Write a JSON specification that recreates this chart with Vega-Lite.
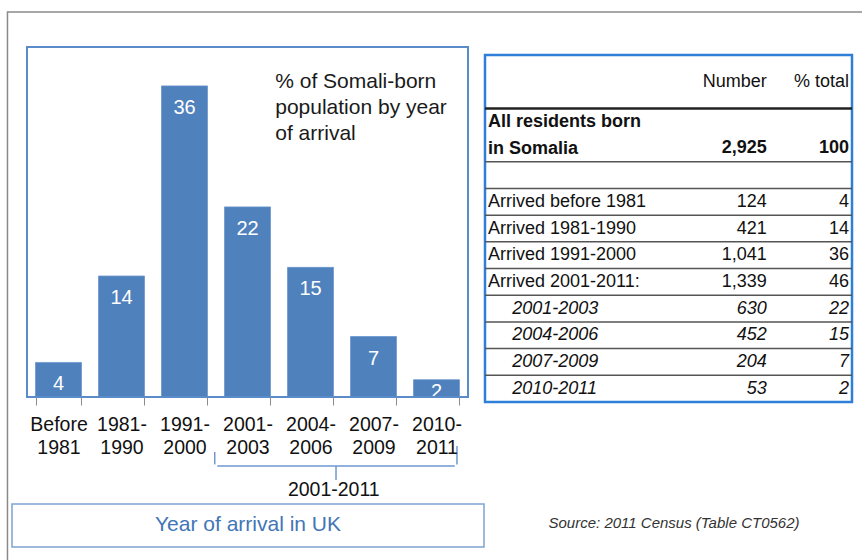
{
  "$schema": "https://vega.github.io/schema/vega-lite/v6.json",
  "width": 862,
  "height": 560,
  "padding": 0,
  "autosize": {"type": "none"},
  "background": "white",
  "config": {
    "view": {"stroke": null},
    "font": "Liberation Sans",
    "text": {"font": "Liberation Sans", "color": "#111111"}
  },
  "datasets": {
    "periods": [
      {"period": "Before 1981", "pct": 4},
      {"period": "1981-1990", "pct": 14},
      {"period": "1991-2000", "pct": 36},
      {"period": "2001-2003", "pct": 22},
      {"period": "2004-2006", "pct": 15},
      {"period": "2007-2009", "pct": 7},
      {"period": "2010-2011", "pct": 2}
    ],
    "census": [
      {"label": "All residents born\nin Somalia", "number": 2925, "pct": 100, "level": "total"},
      {"label": "Arrived before 1981", "number": 124, "pct": 4, "level": "main"},
      {"label": "Arrived 1981-1990", "number": 421, "pct": 14, "level": "main"},
      {"label": "Arrived 1991-2000", "number": 1041, "pct": 36, "level": "main"},
      {"label": "Arrived 2001-2011:", "number": 1339, "pct": 46, "level": "main"},
      {"label": "2001-2003", "number": 630, "pct": 22, "level": "sub"},
      {"label": "2004-2006", "number": 452, "pct": 15, "level": "sub"},
      {"label": "2007-2009", "number": 204, "pct": 7, "level": "sub"},
      {"label": "2010-2011", "number": 53, "pct": 2, "level": "sub"}
    ]
  },
  "layer": [
    {
      "data": {"values": [{}]},
      "layer": [
        {
          "mark": {"type": "rect", "filled": false, "color": "#8a8a8a", "strokeWidth": 1.5},
          "encoding": {
            "x": {"datum": -0.31, "type": "quantitative", "scale": {"domain": [0, 7], "range": [27, 468], "nice": false, "zero": false}, "axis": null},
            "x2": {"datum": 14.5},
            "y": {"datum": 44.55, "type": "quantitative", "scale": {"domain": [0, 40.5], "range": [397, 47], "nice": false, "zero": false}, "axis": null},
            "y2": {"datum": -25}
          }
        },
        {
          "mark": {"type": "text", "align": "left", "baseline": "alphabetic", "fontSize": 21, "lineHeight": 26, "color": "#1a1a1a",
                   "text": ["% of Somali-born", "population by year", "of arrival"]},
          "encoding": {
            "x": {"datum": 3.94, "type": "quantitative", "scale": {"domain": [0, 7], "range": [27, 468], "nice": false, "zero": false}, "axis": null},
            "y": {"datum": 35.76, "type": "quantitative", "scale": {"domain": [0, 40.5], "range": [397, 47], "nice": false, "zero": false}, "axis": null}
          }
        },
        {
          "mark": {"type": "rule", "color": "#6f98cf", "strokeWidth": 1.5},
          "encoding": {
            "x": {"datum": 2.98, "type": "quantitative", "scale": {"domain": [0, 7], "range": [27, 468], "nice": false, "zero": false}, "axis": null},
            "y": {"datum": -6.36, "type": "quantitative", "scale": {"domain": [0, 40.5], "range": [397, 47], "nice": false, "zero": false}, "axis": null},
            "y2": {"datum": -7.8}
          }
        },
        {
          "mark": {"type": "rule", "color": "#6f98cf", "strokeWidth": 1.5},
          "encoding": {
            "x": {"datum": 3.02, "type": "quantitative", "scale": {"domain": [0, 7], "range": [27, 468], "nice": false, "zero": false}, "axis": null},
            "x2": {"datum": 6.79},
            "y": {"datum": -7.98, "type": "quantitative", "scale": {"domain": [0, 40.5], "range": [397, 47], "nice": false, "zero": false}, "axis": null}
          }
        },
        {
          "mark": {"type": "rule", "color": "#6f98cf", "strokeWidth": 1.5},
          "encoding": {
            "x": {"datum": 6.825, "type": "quantitative", "scale": {"domain": [0, 7], "range": [27, 468], "nice": false, "zero": false}, "axis": null},
            "y": {"datum": -5.67, "type": "quantitative", "scale": {"domain": [0, 40.5], "range": [397, 47], "nice": false, "zero": false}, "axis": null},
            "y2": {"datum": -7.8}
          }
        },
        {
          "mark": {"type": "rule", "color": "#6f98cf", "strokeWidth": 1.5},
          "encoding": {
            "x": {"datum": 4.905, "type": "quantitative", "scale": {"domain": [0, 7], "range": [27, 468], "nice": false, "zero": false}, "axis": null},
            "y": {"datum": -7.98, "type": "quantitative", "scale": {"domain": [0, 40.5], "range": [397, 47], "nice": false, "zero": false}, "axis": null},
            "y2": {"datum": -9.6}
          }
        },
        {
          "mark": {"type": "text", "align": "center", "baseline": "middle", "fontSize": 19.5, "text": "2001-2011"},
          "encoding": {
            "x": {"datum": 4.87, "type": "quantitative", "scale": {"domain": [0, 7], "range": [27, 468], "nice": false, "zero": false}, "axis": null},
            "y": {"datum": -10.76, "type": "quantitative", "scale": {"domain": [0, 40.5], "range": [397, 47], "nice": false, "zero": false}, "axis": null}
          }
        },
        {
          "mark": {"type": "rect", "filled": false, "color": "#7ea2d4", "strokeWidth": 1.5},
          "encoding": {
            "x": {"datum": -0.238, "type": "quantitative", "scale": {"domain": [0, 7], "range": [27, 468], "nice": false, "zero": false}, "axis": null},
            "x2": {"datum": 7.254},
            "y": {"datum": -12.38, "type": "quantitative", "scale": {"domain": [0, 40.5], "range": [397, 47], "nice": false, "zero": false}, "axis": null},
            "y2": {"datum": -17.36}
          }
        },
        {
          "mark": {"type": "text", "align": "center", "baseline": "middle", "fontSize": 21, "color": "#4275b8", "text": "Year of arrival in UK"},
          "encoding": {
            "x": {"datum": 3.508, "type": "quantitative", "scale": {"domain": [0, 7], "range": [27, 468], "nice": false, "zero": false}, "axis": null},
            "y": {"datum": -14.81, "type": "quantitative", "scale": {"domain": [0, 40.5], "range": [397, 47], "nice": false, "zero": false}, "axis": null}
          }
        },
        {
          "mark": {"type": "text", "align": "center", "baseline": "middle", "fontSize": 15, "fontStyle": "italic", "color": "#333333", "text": "Source: 2011 Census (Table CT0562)"},
          "encoding": {
            "x": {"datum": 10.27, "type": "quantitative", "scale": {"domain": [0, 7], "range": [27, 468], "nice": false, "zero": false}, "axis": null},
            "y": {"datum": -14.58, "type": "quantitative", "scale": {"domain": [0, 40.5], "range": [397, 47], "nice": false, "zero": false}, "axis": null}
          }
        }
      ]
    },
    {
      "data": {"name": "periods"},
      "layer": [
        {
          "mark": {"type": "bar", "color": "#4f81bd", "stroke": "#6c97cf", "strokeWidth": 0.8},
          "encoding": {
            "x": {
              "field": "period", "type": "nominal",
              "scale": {"type": "band", "domain": ["Before 1981", "1981-1990", "1991-2000", "2001-2003", "2004-2006", "2007-2009", "2010-2011"], "range": [27, 468], "paddingInner": 0.27, "paddingOuter": 0.135},
              "axis": {
                "title": null, "orient": "bottom", "offset": -163, "domain": false, "grid": false,
                "tickBand": "extent", "tickSize": 8, "tickColor": "#8c8c8c", "tickWidth": 1,
                "labelExpr": "isString(datum.value) ? (datum.value == 'Before 1981' ? ['Before', '1981'] : [substring(datum.value, 0, 5), substring(datum.value, 5)]) : ''",
                "labelFont": "Liberation Sans", "labelFontSize": 19.5, "labelColor": "#111111",
                "labelPadding": 10, "labelLineHeight": 23, "labelAngle": 0, "zindex": 2
              }
            },
            "y": {
              "field": "pct", "type": "quantitative", "stack": null,
              "scale": {"domain": [0, 40.5], "range": [397, 47], "nice": false, "zero": false},
              "axis": null
            }
          }
        },
        {
          "transform": [{"filter": "datum.pct >= 4"}],
          "mark": {"type": "text", "color": "white", "fontSize": 20, "baseline": "top", "dy": 12},
          "encoding": {
            "x": {"field": "period", "type": "nominal"},
            "y": {"field": "pct", "type": "quantitative", "stack": null, "axis": null},
            "text": {"field": "pct", "type": "quantitative"}
          }
        },
        {
          "transform": [{"filter": "datum.pct < 4"}],
          "mark": {"type": "text", "color": "white", "fontSize": 20, "baseline": "alphabetic", "dy": 1},
          "encoding": {
            "x": {"field": "period", "type": "nominal"},
            "y": {"datum": 0, "type": "quantitative", "axis": null},
            "text": {"field": "pct", "type": "quantitative"}
          }
        }
      ]
    },
    {
      "data": {"values": [{}]},
      "mark": {"type": "rect", "filled": false, "color": "#5b8bc9", "strokeWidth": 2},
      "encoding": {
        "x": {"datum": 0, "type": "quantitative", "scale": {"domain": [0, 7], "range": [27, 468], "nice": false, "zero": false}, "axis": null},
        "x2": {"datum": 7},
        "y": {"datum": 0, "type": "quantitative", "scale": {"domain": [0, 40.5], "range": [397, 47], "nice": false, "zero": false}, "axis": null},
        "y2": {"datum": 40.5}
      }
    },
    {
      "data": {"name": "census"},
      "layer": [
        {
          "data": {"values": [{}]},
          "mark": {"type": "rect", "filled": false, "color": "#2f7fd8", "strokeWidth": 2.5},
          "encoding": {
            "x": {"datum": 0, "type": "quantitative", "scale": {"domain": [0, 100], "range": [485, 852], "nice": false, "zero": false}, "axis": null},
            "x2": {"datum": 100},
            "y": {"datum": "header-1", "bandPosition": 0, "axis": null},
            "y2": {"datum": "2010-2011", "bandPosition": 1}
          }
        },
        {
          "data": {"values": [{}]},
          "mark": {"type": "text", "align": "right", "baseline": "middle", "fontSize": 18, "text": "Number"},
          "encoding": {
            "x": {"datum": 76.8, "type": "quantitative", "scale": {"domain": [0, 100], "range": [485, 852], "nice": false, "zero": false}, "axis": null},
            "y": {"datum": "header-2", "bandPosition": 0, "axis": null}
          }
        },
        {
          "data": {"values": [{}]},
          "mark": {"type": "text", "align": "right", "baseline": "middle", "fontSize": 18, "text": "% total"},
          "encoding": {
            "x": {"datum": 99.2, "type": "quantitative", "scale": {"domain": [0, 100], "range": [485, 852], "nice": false, "zero": false}, "axis": null},
            "y": {"datum": "header-2", "bandPosition": 0, "axis": null}
          }
        },
        {
          "data": {"values": [{}]},
          "mark": {"type": "rule", "color": "#222222", "strokeWidth": 2.5},
          "encoding": {
            "x": {"datum": 0, "type": "quantitative", "scale": {"domain": [0, 100], "range": [485, 852], "nice": false, "zero": false}, "axis": null},
            "x2": {"datum": 100},
            "y": {"datum": "total-1", "bandPosition": 0, "axis": null}
          }
        },
        {
          "data": {"values": [{}]},
          "mark": {"type": "rule", "color": "#555555", "strokeWidth": 1.5},
          "encoding": {
            "x": {"datum": 0, "type": "quantitative", "scale": {"domain": [0, 100], "range": [485, 852], "nice": false, "zero": false}, "axis": null},
            "x2": {"datum": 100},
            "y": {"datum": "spacer", "bandPosition": 0, "axis": null}
          }
        },
        {
          "transform": [{"filter": "datum.level != 'total'"}],
          "mark": {"type": "rule", "color": "#555555", "strokeWidth": 1.5},
          "encoding": {
            "x": {"datum": 0, "type": "quantitative", "scale": {"domain": [0, 100], "range": [485, 852], "nice": false, "zero": false}, "axis": null},
            "x2": {"datum": 100},
            "y": {"field": "label", "type": "nominal", "bandPosition": 0, "axis": null,
                  "scale": {"type": "band", "domain": ["header-1", "header-2", "total-1", "total-2", "spacer", "Arrived before 1981", "Arrived 1981-1990", "Arrived 1991-2000", "Arrived 2001-2011:", "2001-2003", "2004-2006", "2007-2009", "2010-2011"], "range": [55, 402], "paddingInner": 0, "paddingOuter": 0}}
          }
        },
        {
          "transform": [{"filter": "datum.level == 'main'"}],
          "mark": {"type": "text", "align": "left", "baseline": "middle", "fontSize": 18},
          "encoding": {
            "x": {"datum": 0.8, "type": "quantitative", "scale": {"domain": [0, 100], "range": [485, 852], "nice": false, "zero": false}, "axis": null},
            "y": {"field": "label", "type": "nominal", "axis": null},
            "text": {"field": "label", "type": "nominal"}
          }
        },
        {
          "transform": [{"filter": "datum.level == 'sub'"}],
          "mark": {"type": "text", "align": "left", "baseline": "middle", "fontSize": 18, "fontStyle": "italic"},
          "encoding": {
            "x": {"datum": 7.4, "type": "quantitative", "scale": {"domain": [0, 100], "range": [485, 852], "nice": false, "zero": false}, "axis": null},
            "y": {"field": "label", "type": "nominal", "axis": null},
            "text": {"field": "label", "type": "nominal"}
          }
        },
        {
          "transform": [{"filter": "datum.level == 'main'"}],
          "mark": {"type": "text", "align": "right", "baseline": "middle", "fontSize": 18},
          "encoding": {
            "x": {"datum": 76.8, "type": "quantitative", "scale": {"domain": [0, 100], "range": [485, 852], "nice": false, "zero": false}, "axis": null},
            "y": {"field": "label", "type": "nominal", "axis": null},
            "text": {"field": "number", "type": "quantitative", "format": ","}
          }
        },
        {
          "transform": [{"filter": "datum.level == 'sub'"}],
          "mark": {"type": "text", "align": "right", "baseline": "middle", "fontSize": 18, "fontStyle": "italic"},
          "encoding": {
            "x": {"datum": 76.8, "type": "quantitative", "scale": {"domain": [0, 100], "range": [485, 852], "nice": false, "zero": false}, "axis": null},
            "y": {"field": "label", "type": "nominal", "axis": null},
            "text": {"field": "number", "type": "quantitative", "format": ","}
          }
        },
        {
          "transform": [{"filter": "datum.level == 'main'"}],
          "mark": {"type": "text", "align": "right", "baseline": "middle", "fontSize": 18},
          "encoding": {
            "x": {"datum": 99.2, "type": "quantitative", "scale": {"domain": [0, 100], "range": [485, 852], "nice": false, "zero": false}, "axis": null},
            "y": {"field": "label", "type": "nominal", "axis": null},
            "text": {"field": "pct", "type": "quantitative"}
          }
        },
        {
          "transform": [{"filter": "datum.level == 'sub'"}],
          "mark": {"type": "text", "align": "right", "baseline": "middle", "fontSize": 18, "fontStyle": "italic"},
          "encoding": {
            "x": {"datum": 99.2, "type": "quantitative", "scale": {"domain": [0, 100], "range": [485, 852], "nice": false, "zero": false}, "axis": null},
            "y": {"field": "label", "type": "nominal", "axis": null},
            "text": {"field": "pct", "type": "quantitative"}
          }
        },
        {
          "transform": [{"filter": "datum.level == 'total'"}],
          "mark": {"type": "text", "align": "left", "baseline": "middle", "fontSize": 18, "fontWeight": "bold", "lineBreak": "\n", "lineHeight": 27, "dy": -13},
          "encoding": {
            "x": {"datum": 0.8, "type": "quantitative", "scale": {"domain": [0, 100], "range": [485, 852], "nice": false, "zero": false}, "axis": null},
            "y": {"datum": "total-2", "bandPosition": 0, "axis": null},
            "text": {"field": "label", "type": "nominal"}
          }
        },
        {
          "transform": [{"filter": "datum.level == 'total'"}],
          "mark": {"type": "text", "align": "right", "baseline": "middle", "fontSize": 18, "fontWeight": "bold"},
          "encoding": {
            "x": {"datum": 76.8, "type": "quantitative", "scale": {"domain": [0, 100], "range": [485, 852], "nice": false, "zero": false}, "axis": null},
            "y": {"datum": "total-2", "bandPosition": 0.5, "axis": null},
            "text": {"field": "number", "type": "quantitative", "format": ","}
          }
        },
        {
          "transform": [{"filter": "datum.level == 'total'"}],
          "mark": {"type": "text", "align": "right", "baseline": "middle", "fontSize": 18, "fontWeight": "bold"},
          "encoding": {
            "x": {"datum": 99.2, "type": "quantitative", "scale": {"domain": [0, 100], "range": [485, 852], "nice": false, "zero": false}, "axis": null},
            "y": {"datum": "total-2", "bandPosition": 0.5, "axis": null},
            "text": {"field": "pct", "type": "quantitative"}
          }
        }
      ]
    }
  ],
  "resolve": {
    "scale": {"x": "independent", "y": "independent"},
    "axis": {"x": "independent", "y": "independent"}
  }
}
